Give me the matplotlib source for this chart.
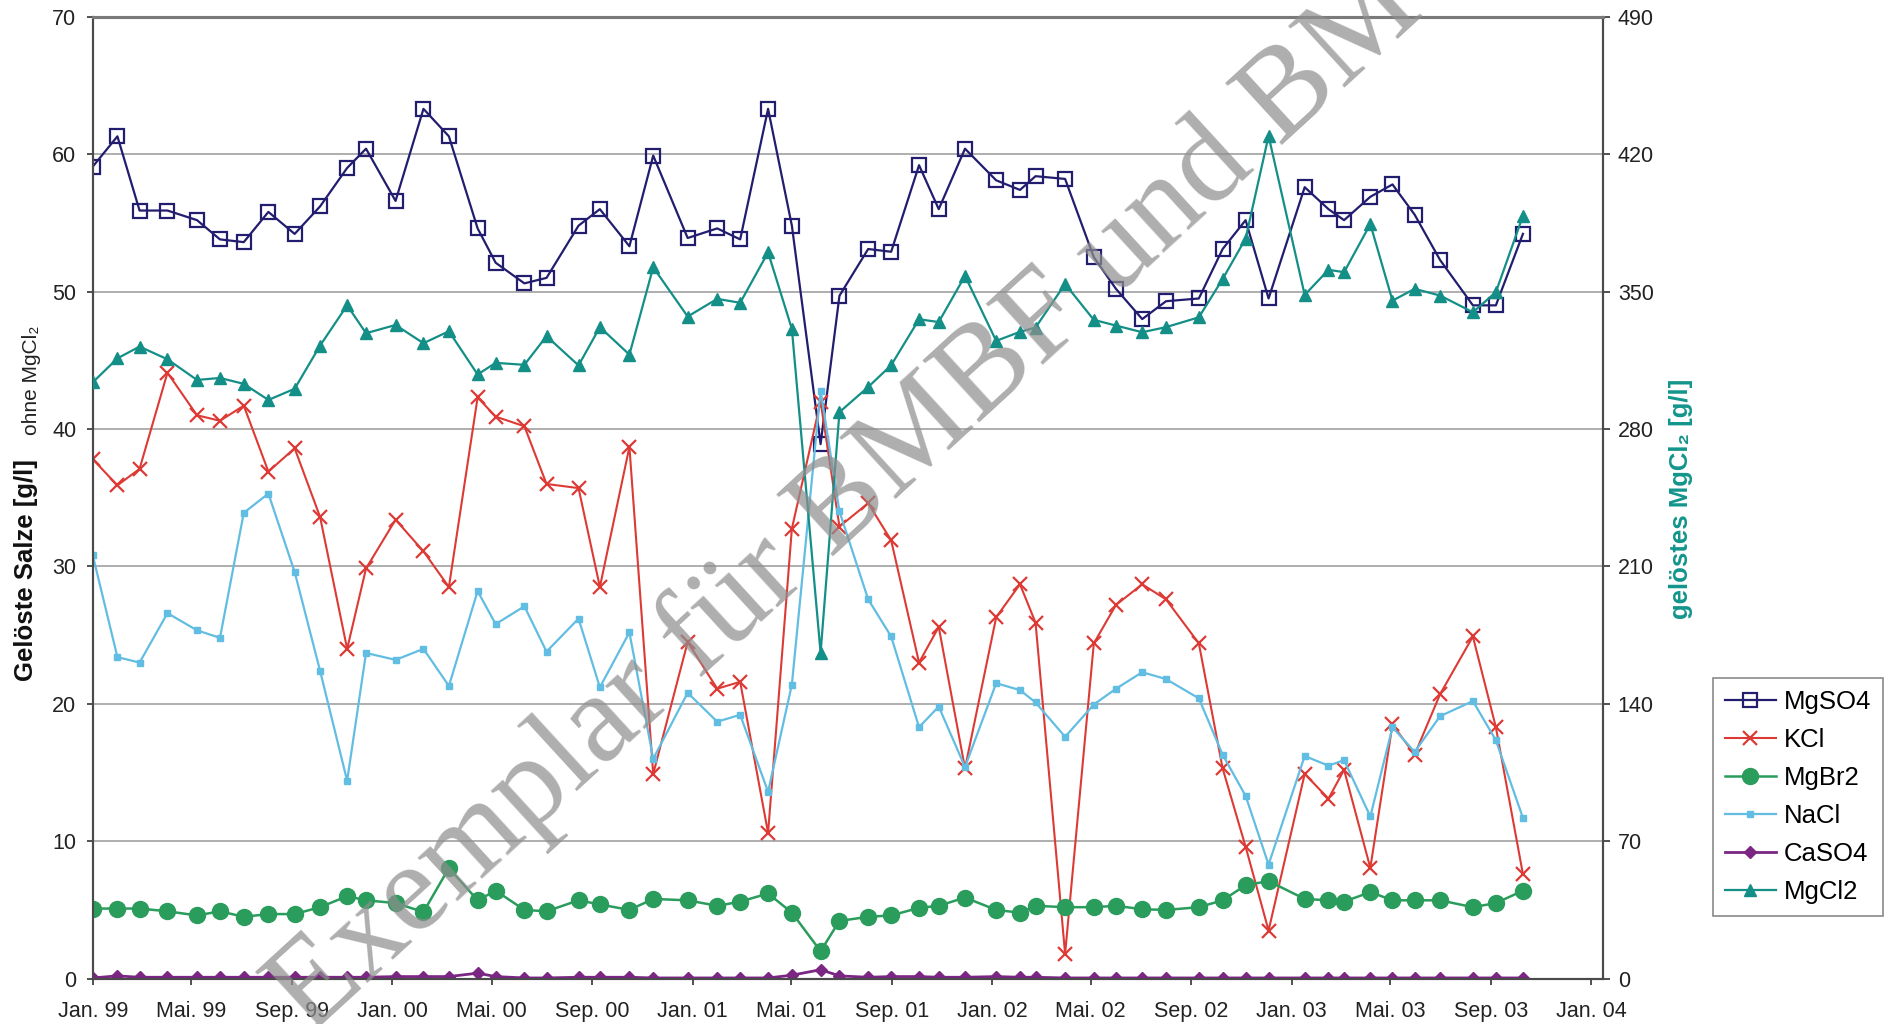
import datetime as dt
import matplotlib
matplotlib.use("Agg")
import matplotlib.pyplot as plt

plt.rcParams['font.family'] = ['Liberation Sans', 'DejaVu Sans']

# ---------------- data ----------------
dates = [
    "1999-01-01", "1999-01-31", "1999-02-27", "1999-04-02", "1999-05-08", "1999-06-05",
    "1999-07-04", "1999-08-03", "1999-09-04", "1999-10-05", "1999-11-07", "1999-11-30",
    "2000-01-05", "2000-02-08", "2000-03-10", "2000-04-14", "2000-05-06", "2000-06-10",
    "2000-07-07", "2000-08-15", "2000-09-10", "2000-10-16", "2000-11-14", "2000-12-26",
    "2001-01-31", "2001-02-28", "2001-04-03", "2001-05-02", "2001-06-06", "2001-06-29",
    "2001-08-03", "2001-08-31", "2001-10-04", "2001-10-28", "2001-11-29",
    "2002-01-06", "2002-02-04", "2002-02-23", "2002-03-31", "2002-05-05", "2002-06-01",
    "2002-07-03", "2002-08-01", "2002-09-10", "2002-10-09", "2002-11-06", "2002-12-04",
    "2003-01-17", "2003-02-15", "2003-03-06", "2003-04-07", "2003-05-04", "2003-05-31",
    "2003-07-01", "2003-08-10", "2003-09-07", "2003-10-10",
]

mgso4 = [59.1, 61.3, 55.9, 55.9, 55.2, 53.8, 53.6, 55.8, 54.2, 56.2, 59.0, 60.4,
         56.6, 63.3, 61.3, 54.6, 52.1, 50.6, 51.0, 54.8, 56.0, 53.3, 59.9, 53.9,
         54.6, 53.8, 63.3, 54.8, 38.9, 49.7, 53.1, 52.9, 59.2, 56.0, 60.4,
         58.1, 57.4, 58.4, 58.2, 52.5, 50.2, 48.0, 49.3, 49.5, 53.1, 55.2, 49.5,
         57.6, 56.0, 55.2, 56.9, 57.8, 55.6, 52.3, 49.0, 49.0, 54.2]

kcl = [37.8, 35.9, 37.1, 44.1, 41.0, 40.6, 41.7, 36.9, 38.6, 33.6, 24.0, 29.85,
       33.4, 31.1, 28.5, 42.3, 40.9, 40.2, 36.0, 35.7, 28.5, 38.7, 14.9, 24.5,
       21.1, 21.6, 10.6, 32.75, 42.0, 32.9, 34.6, 31.9, 23.0, 25.6, 15.3,
       26.3, 28.7, 25.9, 1.8, 24.4, 27.2, 28.7, 27.6, 24.4, 15.3, 9.6, 3.5,
       14.9, 13.1, 15.2, 8.06, 18.5, 16.3, 20.7, 24.9, 18.3, 7.6]

mgbr2 = [5.1, 5.1, 5.1, 4.9, 4.6, 4.9, 4.5, 4.7, 4.7, 5.2, 6.0, 5.7,
         5.5, 4.85, 8.05, 5.7, 6.4, 5.0, 4.9, 5.7, 5.4, 5.0, 5.8, 5.7,
         5.3, 5.6, 6.2, 4.8, 2.0, 4.2, 4.5, 4.6, 5.15, 5.3, 5.9,
         5.0, 4.8, 5.3, 5.2, 5.2, 5.3, 5.05, 5.0, 5.2, 5.7, 6.8, 7.1,
         5.8, 5.7, 5.6, 6.3, 5.7, 5.7, 5.7, 5.2, 5.5, 6.4]

nacl = [30.8, 23.4, 23.0, 26.6, 25.35, 24.8, 33.9, 35.3, 29.6, 22.4, 14.4, 23.7,
        23.2, 24.0, 21.3, 28.2, 25.8, 27.1, 23.8, 26.2, 21.2, 25.2, 16.0, 20.8,
        18.7, 19.2, 13.6, 21.4, 42.8, 34.0, 27.6, 24.9, 18.3, 19.8, 15.4,
        21.5, 21.0, 20.1, 17.6, 19.95, 21.1, 22.3, 21.8, 20.4, 16.3, 13.3, 8.3,
        16.2, 15.5, 15.9, 11.8, 18.3, 16.5, 19.1, 20.2, 17.35, 11.7]

caso4 = [0.05, 0.2, 0.1, 0.1, 0.1, 0.1, 0.1, 0.1, 0.1, 0.1, 0.1, 0.1,
         0.15, 0.15, 0.15, 0.4, 0.15, 0.05, 0.05, 0.1, 0.1, 0.1, 0.05, 0.05,
         0.05, 0.05, 0.05, 0.25, 0.65, 0.2, 0.1, 0.15, 0.15, 0.1, 0.1,
         0.15, 0.1, 0.1, 0.05, 0.05, 0.05, 0.05, 0.05, 0.05, 0.05, 0.05, 0.05,
         0.05, 0.05, 0.05, 0.05, 0.05, 0.05, 0.05, 0.05, 0.05, 0.05]

mgcl2 = [303.8, 316, 322, 315.5, 305, 306, 303, 294.8, 300.5, 322.5, 343, 328.8,
         333, 323.7, 329.8, 307.8, 313.7, 312.7, 327.3, 312.4, 331.9, 317.9, 362.4, 337.3,
         346.3, 344.3, 370, 331, 166, 288.6, 301.4, 312.5, 335.9, 334.5, 358,
         324.9, 329.5, 331.7, 353.9, 335.6, 332.7, 329.3, 331.9, 336.9, 356.4, 377, 429.3,
         348.3, 361.1, 359.9, 384.4, 345.4, 351.4, 348, 339.5, 349.7, 388.6]

tick_dates = ["1999-01-01", "1999-05-01", "1999-09-01", "2000-01-01", "2000-05-01",
              "2000-09-01", "2001-01-01", "2001-05-01", "2001-09-01", "2002-01-01",
              "2002-05-01", "2002-09-01", "2003-01-01", "2003-05-01", "2003-09-01",
              "2004-01-01"]
tick_labels = ["Jan. 99", "Mai. 99", "Sep. 99", "Jan. 00", "Mai. 00", "Sep. 00",
               "Jan. 01", "Mai. 01", "Sep. 01", "Jan. 02", "Mai. 02", "Sep. 02",
               "Jan. 03", "Mai. 03", "Sep. 03", "Jan. 04"]
left_ticks = [0, 10, 20, 30, 40, 50, 60, 70]
right_ticks = [0, 70, 140, 210, 280, 350, 420, 490]

# ---------------- figure ----------------
x = [dt.datetime.strptime(d, "%Y-%m-%d") for d in dates]
xt = [dt.datetime.strptime(d, "%Y-%m-%d") for d in tick_dates]

fig = plt.figure(figsize=(18.9, 10.24), dpi=100)
ax = fig.add_axes([0.0491, 0.0443, 0.7988, 0.9393])
ax2 = ax.twinx()

c_mgso4 = '#231d6f'
c_kcl = '#dd3a35'
c_mgbr2 = '#2a9c5c'
c_nacl = '#62bde2'
c_caso4 = '#7a2682'
c_mgcl2 = '#148f87'

h1, = ax.plot(x, mgso4, color=c_mgso4, lw=1.6, marker='s', ms=9.5, mfc='none',
              mec=c_mgso4, mew=1.6, label='MgSO4', zorder=5)
h2, = ax.plot(x, kcl, color=c_kcl, lw=1.5, marker='x', ms=9.5, mew=1.6,
              label='KCl', zorder=6)
h3, = ax.plot(x, mgbr2, color=c_mgbr2, lw=1.8, marker='o', ms=11.5,
              label='MgBr2', zorder=7)
h4, = ax.plot(x, nacl, color=c_nacl, lw=1.6, marker='s', ms=4.5,
              label='NaCl', zorder=8)
h5, = ax.plot(x, caso4, color=c_caso4, lw=2.0, marker='D', ms=6,
              label='CaSO4', zorder=9)
h6, = ax2.plot(x, mgcl2, color=c_mgcl2, lw=1.6, marker='^', ms=8.5,
               label='MgCl2', zorder=5)

xmin = dt.datetime(1999, 1, 1)
xmax = dt.datetime(2004, 1, 15)
ax.set_xlim(xmin, xmax)
ax.set_ylim(0, 70)
ax2.set_ylim(0, 490)
ax.set_yticks(left_ticks)
ax2.set_yticks(right_ticks)
ax.set_xticks(xt)
ax.set_xticklabels(tick_labels)

ax.grid(axis='y', color='#a8a8a8', lw=1.3)
ax.set_axisbelow(True)

ax.tick_params(axis='x', direction='out', length=4, width=1.2, pad=12,
               labelsize=15.5, colors='#333333', labelcolor='#222222')
ax.tick_params(axis='y', direction='out', length=4, width=1.2, pad=8,
               labelsize=15.5, colors='#333333', labelcolor='#222222')
ax2.tick_params(axis='y', direction='out', length=5, width=1.2, pad=6,
                labelsize=15.5, colors='#333333', labelcolor='#222222')

for a in (ax, ax2):
    for s in ('left', 'right', 'bottom'):
        a.spines[s].set_color('#4a4a4a')
        a.spines[s].set_linewidth(1.5)
    a.spines['top'].set_color('#7a7a7a')
    a.spines['top'].set_linewidth(2.2)

# axis titles
fig.text(0.0138, 0.4434, "Gelöste Salze [g/l]", rotation=90, ha='center',
         va='center', fontsize=18.5, fontweight='bold', color='#111111')
fig.text(0.0165, 0.629, "ohne MgCl\u2082", rotation=90, ha='center',
         va='center', fontsize=15, color='#222222')
fig.text(0.8894, 0.5127, "gelöstes MgCl\u2082 [g/l]", rotation=90, ha='center',
         va='center', fontsize=18.5, fontweight='bold', color='#12958c')

# legend
leg = fig.legend([h1, h2, h3, h4, h5, h6],
                 ['MgSO4', 'KCl', 'MgBr2', 'NaCl', 'CaSO4', 'MgCl2'],
                 loc='center', bbox_to_anchor=(0.9513, 0.2217),
                 fontsize=18.5, frameon=True, fancybox=False, framealpha=1,
                 edgecolor='#8a8a8a', borderpad=0.45, labelspacing=0.55,
                 handlelength=2.0, handletextpad=0.3, borderaxespad=0)
leg.get_frame().set_linewidth(1.2)

# watermark
fig.text(0.4773, 0.518, "Exemplar für BMBF und BMU", rotation=42.5,
         rotation_mode='anchor', ha='center', va='baseline', fontsize=91.7,
         family=['Liberation Serif', 'DejaVu Serif'], color='#8f8f8f',
         alpha=0.72, zorder=20)

fig.savefig("out.png", dpi=100)
